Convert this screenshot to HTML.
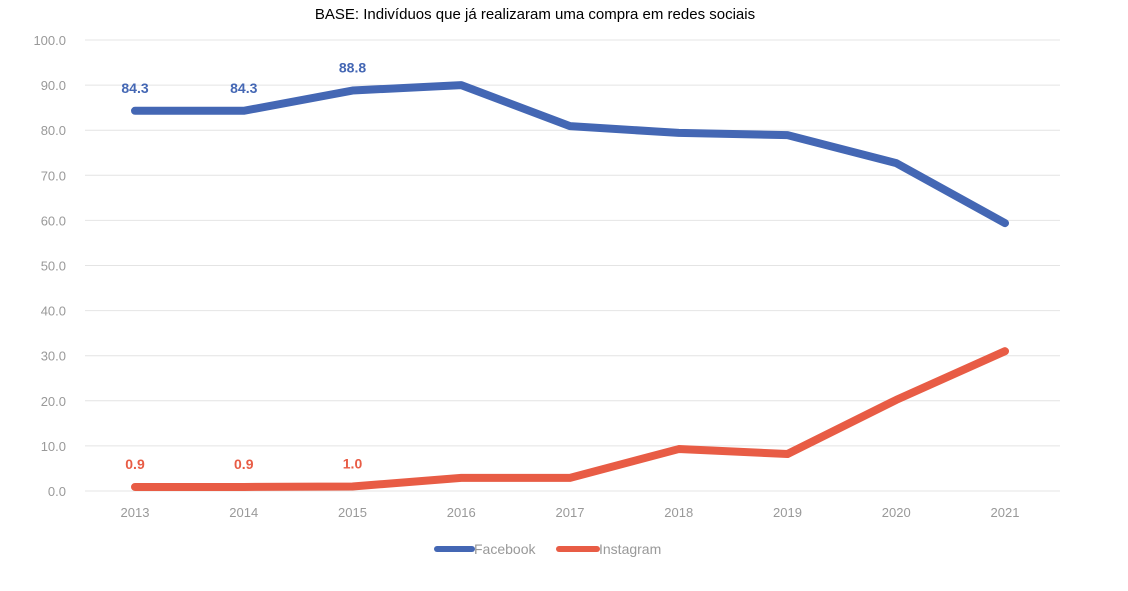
<!DOCTYPE html>
<html><head><meta charset="utf-8"><style>
body{margin:0;background:#fff;}
svg{display:block;font-family:"Liberation Sans",sans-serif;}
</style></head><body>
<svg id="chart" width="1128" height="591">
<text x="535" y="19" text-anchor="middle" font-size="15" fill="#000">BASE:  Indivíduos que já realizaram uma compra em redes sociais</text>
<g id="grid"></g><g id="series"></g>
<g>
<line x1="437" y1="549" x2="472" y2="549" stroke="#4467b4" stroke-width="6" stroke-linecap="round"/>
<text x="474" y="554" font-size="14" fill="#999">Facebook</text>
<line x1="559" y1="549" x2="597" y2="549" stroke="#e85c45" stroke-width="6" stroke-linecap="round"/>
<text x="599" y="554" font-size="14" fill="#999">Instagram</text>
</g>
</svg>
<script>
const years=["2013","2014","2015","2016","2017","2018","2019","2020","2021"];
const facebook=[84.3,84.3,88.8,90.0,80.9,79.4,78.9,72.7,59.4];
const instagram=[0.9,0.9,1.0,2.9,2.9,9.3,8.2,20.2,31.0];
const fbLabels=["84.3","84.3","88.8"];
const igLabels=["0.9","0.9","1.0"];
const yTicks=[0,10,20,30,40,50,60,70,80,90,100];
const NS="http://www.w3.org/2000/svg";
const xS=i=>135+i*108.75, yS=v=>491-v*4.51;
function mk(t,a,p){const e=document.createElementNS(NS,t);for(const k in a)e.setAttribute(k,a[k]);p.appendChild(e);return e;}
const grid=document.getElementById('grid'), ser=document.getElementById('series');
yTicks.forEach(v=>{
 const l=mk('line',{x1:85,x2:1060,y1:yS(v),y2:yS(v),stroke:'#e4e4e4','stroke-width':1},grid);
 
 
 const t=mk('text',{x:66,y:yS(v)+5,'text-anchor':'end','font-size':13,fill:'#999'},grid);
 t.textContent=v.toFixed(1);
 
 
});
years.forEach((y,i)=>{
 const t=mk('text',{x:xS(i),y:517,'text-anchor':'middle','font-size':13,fill:'#999'},grid);
 t.textContent=y;
 
 
});
function line(vals,col,name,labels){
 const p=mk('polyline',{points:vals.map((v,i)=>xS(i)+','+yS(v)).join(' '),fill:'none',stroke:col,'stroke-width':8,'stroke-linejoin':'round','stroke-linecap':'round'},ser);
 
 
 labels.forEach((s,i)=>{
  const t=mk('text',{x:xS(i),y:yS(vals[i])-18,'text-anchor':'middle','font-size':14,'font-weight':'bold',fill:col},ser);
  t.textContent=s;
  
  
 });
}
line(facebook,'#4467b4','facebook',fbLabels);
line(instagram,'#e85c45','instagram',igLabels);
</script>
</body></html>
